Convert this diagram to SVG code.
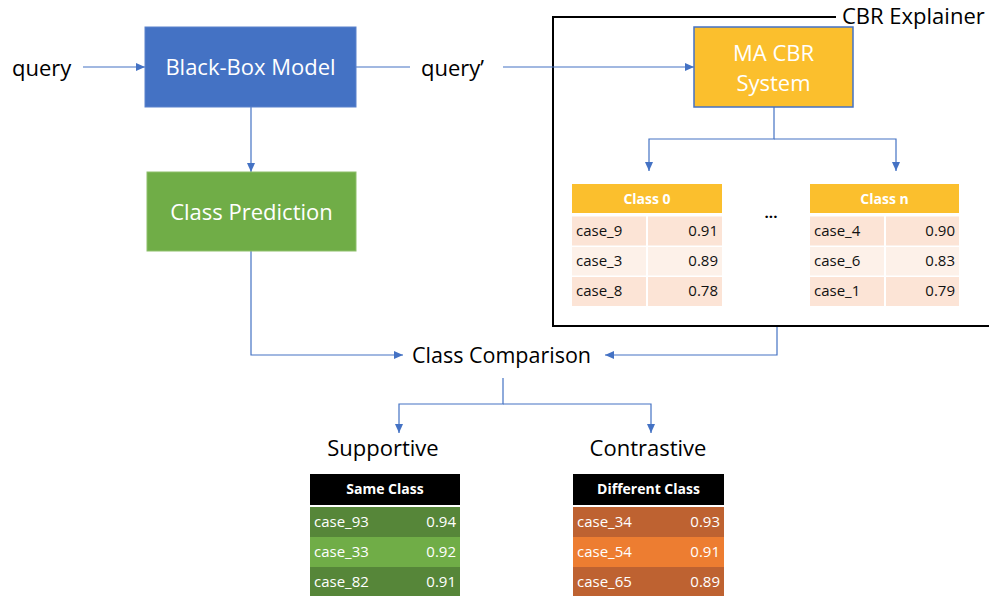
<svg xmlns="http://www.w3.org/2000/svg" width="989" height="596" viewBox="0 0 989 596">
<style>
  .lbl{font-family:"Open Sans","Liberation Sans",sans-serif;fill:#000;}
  .big{font-size:22px;}
  .box{font-family:"Open Sans","Liberation Sans",sans-serif;font-size:22px;fill:#fff;text-anchor:middle;}
  .hdr{font-family:"Open Sans","Liberation Sans",sans-serif;font-size:14px;font-weight:bold;fill:#fff;text-anchor:middle;}
  .cell{font-family:"Open Sans","Liberation Sans",sans-serif;font-size:15px;fill:#111;}
  .cellw{font-family:"Open Sans","Liberation Sans",sans-serif;font-size:15px;fill:#fff;}
  .end{text-anchor:end;}
  .conn{fill:none;stroke:#4472C4;stroke-width:1.2;}
  .peach{fill:#FCE4D6;}
  .light{fill:#FDF1E9;}
</style>
<defs>
  <marker id="arr" markerUnits="userSpaceOnUse" markerWidth="10" markerHeight="8" refX="9" refY="4" orient="auto">
    <path d="M0,0 L9,4 L0,8 z" fill="#4472C4"/>
  </marker>
</defs>
<rect width="989" height="596" fill="#fff"/>

<g id="frame">
  <path d="M836,17 H553 V326 H995" fill="none" stroke="#000" stroke-width="2"/>
  <text class="lbl big" x="842" y="24">CBR Explainer</text>
</g>

<g id="connectors">
  <path class="conn" d="M83,67 H145" marker-end="url(#arr)"/>
  <path class="conn" d="M356,67 H410"/>
  <path class="conn" d="M503,67 H694" marker-end="url(#arr)"/>
  <path class="conn" d="M251,107 V172" marker-end="url(#arr)"/>
  <path class="conn" d="M774,107 V139 H649 V171" marker-end="url(#arr)"/>
  <path class="conn" d="M774,139 H896 V171" marker-end="url(#arr)"/>
  <path class="conn" d="M251,251 V355 H403" marker-end="url(#arr)"/>
  <path class="conn" d="M777,327 V355 H605" marker-end="url(#arr)"/>
  <path class="conn" d="M503,378 V404 H399 V433" marker-end="url(#arr)"/>
  <path class="conn" d="M503,404 H651 V433" marker-end="url(#arr)"/>
</g>

<g id="query">
  <text class="lbl big" x="12" y="76">query</text>
</g>
<g id="query-prime">
  <text class="lbl big" x="421" y="76">query’</text>
</g>

<g id="black-box-model">
  <rect x="145" y="27" width="211" height="80" fill="#4472C4" stroke="#5A82CC" stroke-width="1"/>
  <text class="box" x="250.5" y="75">Black-Box Model</text>
</g>

<g id="class-prediction">
  <rect x="147" y="172" width="209" height="79" fill="#70AD47" stroke="#8DBF6B" stroke-width="1"/>
  <text class="box" x="251.5" y="220">Class Prediction</text>
</g>

<g id="ma-cbr-system">
  <rect x="694" y="27" width="159" height="80" fill="#FBBF2D" stroke="#4472C4" stroke-width="1.5"/>
  <text class="box" x="773.5" y="61">MA CBR</text>
  <text class="box" x="773.5" y="91">System</text>
</g>

<g id="class-0">
  <rect x="572" y="184" width="150" height="29" fill="#FBBF2D"/>
  <text class="hdr" x="647" y="203.5">Class 0</text>
  <rect class="peach" x="572" y="216.5" width="74" height="29"/>
  <rect class="peach" x="648" y="216.5" width="74" height="29"/>
  <rect class="light" x="572" y="247" width="74" height="28.5"/>
  <rect class="light" x="648" y="247" width="74" height="28.5"/>
  <rect class="peach" x="572" y="277" width="74" height="29"/>
  <rect class="peach" x="648" y="277" width="74" height="29"/>
  <text class="cell" x="576" y="236">case_9</text>
  <text class="cell end" x="718" y="236">0.91</text>
  <text class="cell" x="576" y="266">case_3</text>
  <text class="cell end" x="718" y="266">0.89</text>
  <text class="cell" x="576" y="296">case_8</text>
  <text class="cell end" x="718" y="296">0.78</text>
</g>

<g id="ellipsis">
  <text class="lbl" x="771" y="218" font-size="15" font-weight="bold" text-anchor="middle">...</text>
</g>

<g id="class-n">
  <rect x="810" y="184" width="149" height="29" fill="#FBBF2D"/>
  <text class="hdr" x="884.5" y="203.5">Class n</text>
  <rect class="peach" x="810" y="216.5" width="74" height="29"/>
  <rect class="peach" x="886" y="216.5" width="73" height="29"/>
  <rect class="light" x="810" y="247" width="74" height="28.5"/>
  <rect class="light" x="886" y="247" width="73" height="28.5"/>
  <rect class="peach" x="810" y="277" width="74" height="29"/>
  <rect class="peach" x="886" y="277" width="73" height="29"/>
  <text class="cell" x="814" y="236">case_4</text>
  <text class="cell end" x="955" y="236">0.90</text>
  <text class="cell" x="814" y="266">case_6</text>
  <text class="cell end" x="955" y="266">0.83</text>
  <text class="cell" x="814" y="296">case_1</text>
  <text class="cell end" x="955" y="296">0.79</text>
</g>

<g id="class-comparison">
  <text class="lbl" x="412" y="363" font-size="21.5">Class Comparison</text>
</g>

<g id="supportive">
  <text class="lbl big" x="383" y="456" text-anchor="middle">Supportive</text>
  <rect x="310" y="474" width="150" height="31" fill="#000"/>
  <text class="hdr" x="385" y="494">Same Class</text>
  <rect x="310" y="507" width="150" height="30" fill="#568639"/>
  <rect x="310" y="537" width="150" height="30" fill="#70AD47"/>
  <rect x="310" y="567" width="150" height="29" fill="#568639"/>
  <text class="cellw" x="314" y="527">case_93</text>
  <text class="cellw end" x="456" y="527">0.94</text>
  <text class="cellw" x="314" y="557">case_33</text>
  <text class="cellw end" x="456" y="557">0.92</text>
  <text class="cellw" x="314" y="587">case_82</text>
  <text class="cellw end" x="456" y="587">0.91</text>
</g>

<g id="contrastive">
  <text class="lbl big" x="648" y="456" text-anchor="middle">Contrastive</text>
  <rect x="573" y="474" width="151" height="31" fill="#000"/>
  <text class="hdr" x="648.5" y="494">Different Class</text>
  <rect x="573" y="507" width="151" height="30" fill="#BE6231"/>
  <rect x="573" y="537" width="151" height="30" fill="#ED7D31"/>
  <rect x="573" y="567" width="151" height="29" fill="#BE6231"/>
  <text class="cellw" x="577" y="527">case_34</text>
  <text class="cellw end" x="720" y="527">0.93</text>
  <text class="cellw" x="577" y="557">case_54</text>
  <text class="cellw end" x="720" y="557">0.91</text>
  <text class="cellw" x="577" y="587">case_65</text>
  <text class="cellw end" x="720" y="587">0.89</text>
</g>
</svg>
